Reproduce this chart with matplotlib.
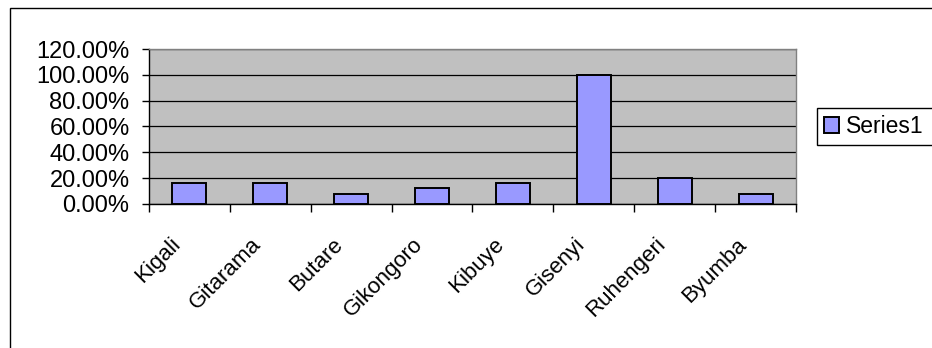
import numpy as np
import matplotlib.pyplot as plt
import matplotlib.transforms as mtransforms
from matplotlib.patches import Rectangle, Patch
from matplotlib.ticker import FixedLocator, PercentFormatter

plt.rcParams['font.family'] = ['Liberation Sans', 'DejaVu Sans']

provinces = ['Kigali', 'Gitarama', 'Butare', 'Gikongoro', 'Kibuye',
             'Gisenyi', 'Ruhengeri', 'Byumba']
series1 = [0.16, 0.16, 0.08, 0.12, 0.16, 1.00, 0.20, 0.08]
yticks = [0.0, 0.2, 0.4, 0.6, 0.8, 1.0, 1.2]

W, H = 932, 348
fig = plt.figure(figsize=(W / 100, H / 100), dpi=100)
fig.patch.set_facecolor('white')

# chart frame (left and top edges only fall inside the image)
fig.patches.append(Rectangle((10 / W, -0.1), 1.2, 1.1 - 8 / H,
                             transform=fig.transFigure, fill=False,
                             edgecolor='black', lw=1.0))

ax = fig.add_axes([149 / W, 1 - 204 / H, (796 - 149) / W, (204 - 49) / H])
ax.set_facecolor('#C0C0C0')

x = np.arange(len(provinces))
ax.bar(x, series1, width=0.42, color='#9999FF', edgecolor='black',
       linewidth=1.4, zorder=3)

ax.set_xlim(-0.5, len(provinces) - 0.5)
ax.set_ylim(0, 1.2)
ax.set_yticks(yticks)
ax.yaxis.set_major_formatter(PercentFormatter(1.0, decimals=2))
ax.yaxis.grid(True, color='black', lw=0.9, zorder=1)
ax.set_axisbelow(True)

for side in ('top', 'right'):
    ax.spines[side].set_color('#808080')
    ax.spines[side].set_linewidth(1.0)
for side in ('left', 'bottom'):
    ax.spines[side].set_color('black')
    ax.spines[side].set_linewidth(1.0)

ax.tick_params(axis='y', direction='out', length=5, width=1, pad=9,
               labelsize=17)

# category boundaries carry the tick marks, labels sit at the centres
ax.set_xticks(x)
ax.set_xticklabels(provinces, rotation=45, ha='right', va='top', fontsize=16)
ax.xaxis.set_minor_locator(FixedLocator(np.arange(len(provinces) + 1) - 0.5))
ax.tick_params(axis='x', which='major', length=0, pad=21.5)
ax.tick_params(axis='x', which='minor', direction='out', length=6, width=1)
shift = mtransforms.ScaledTranslation(-4.5 / 100, 0, fig.dpi_scale_trans)
for lab in ax.get_xticklabels():
    lab.set_transform(lab.get_transform() + shift)

handle = Patch(facecolor='#9999FF', edgecolor='black', linewidth=1.4)
fig.legend([handle], ['Series1'], loc='center left', mode='expand',
           bbox_to_anchor=(817 / W, 1 - 145 / H, 0.2, 37 / H),
           bbox_transform=fig.transFigure, fontsize=16.5, frameon=True,
           fancybox=False, edgecolor='black', framealpha=1,
           handlelength=0.65, handleheight=0.65, handletextpad=0.3,
           borderpad=0.3, borderaxespad=0)

fig.savefig('out.png', dpi=100)
